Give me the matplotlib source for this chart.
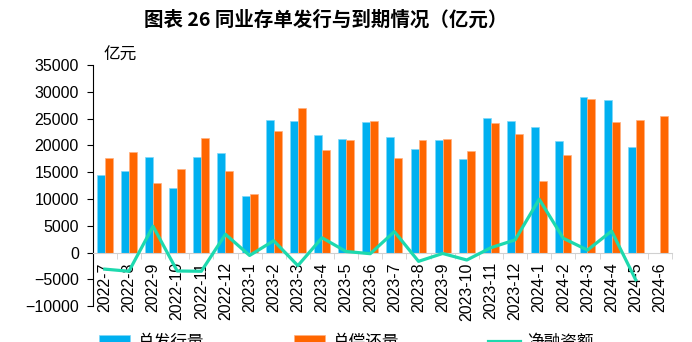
import numpy as np
import matplotlib
matplotlib.use("Agg")
import matplotlib.pyplot as plt
from matplotlib.ticker import FixedLocator

# ── Données ──
mois = ["2022-7", "2022-8", "2022-9", "2022-10", "2022-11", "2022-12",
        "2023-1", "2023-2", "2023-3", "2023-4", "2023-5", "2023-6",
        "2023-7", "2023-8", "2023-9", "2023-10", "2023-11", "2023-12",
        "2024-1", "2024-2", "2024-3", "2024-4", "2024-5", "2024-6"]
emission = [14500, 15300, 17900, 12100, 17800, 18600,
            10500, 24800, 24500, 22000, 21200, 24400,
            21500, 19400, 21000, 17500, 25100, 24600,
            23400, 20900, 29100, 28400, 19600, np.nan]
remboursement = [17600, 18800, 12900, 15600, 21300, 15200,
                 11000, 22600, 26900, 19200, 21000, 24600,
                 17600, 21000, 21100, 18900, 24200, 22200,
                 13400, 18200, 28700, 24400, 24800, 25400]
net = [-3100, -3500, 4900, -3450, -3500, 3400,
       -550, 2200, -2450, 2750, 190, -220,
       3900, -1650, -180, -1400, 900, 2350,
       9950, 2650, 450, 4000, -5100, np.nan]

BLEU = "#00B0F0"
ORANGE = "#FF6600"
TEAL = "#1DD9AE"

NUM_FONT = ["Liberation Sans", "Noto Sans CJK SC"]
CJK_FONT = ["Noto Sans CJK SC", "DejaVu Sans"]

fig = plt.figure(figsize=(6.92, 3.42), dpi=100)
ax = fig.add_axes([0.134, 0.105, 0.837, 0.705])

x = np.arange(len(mois))
w = 0.33
b1 = ax.bar(x - w / 2, emission, width=w, color=BLEU, edgecolor="#7FD8F8",
            linewidth=0.5, label="总发行量", zorder=2)
b2 = ax.bar(x + w / 2, remboursement, width=w, color=ORANGE, edgecolor="#FFB080",
            linewidth=0.5, label="总偿还量", zorder=2)
l1, = ax.plot(x, net, color=TEAL, linewidth=2.3, label="净融资额", zorder=3)

ax.set_xlim(-0.5, len(mois) - 0.5)
ax.set_ylim(-10000, 35000)
ax.set_yticks(np.arange(-10000, 35001, 5000))

for s in ["top", "right"]:
    ax.spines[s].set_visible(False)
ax.spines["bottom"].set_position(("data", 0))
ax.spines["bottom"].set_color("#D0D0D0")
ax.spines["left"].set_color("black")
ax.spines["left"].set_linewidth(0.8)

ax.set_xticks(x)
ax.set_xticklabels(mois, rotation=90, va="top", ha="center",
                   family=NUM_FONT, fontsize=11.5)
ax.tick_params(axis="x", which="major", length=0, pad=7)
ax.xaxis.set_minor_locator(FixedLocator(np.arange(-0.5, len(mois), 1)))
ax.tick_params(axis="x", which="minor", length=4, color="#D0D0D0", direction="out")
ax.tick_params(axis="y", length=4, direction="out", pad=6)
for lab in ax.get_yticklabels():
    lab.set_family(NUM_FONT)
    lab.set_fontsize(11.5)

fig.text(0.150, 0.839, "亿元", family=CJK_FONT, fontsize=12, va="center")
fig.text(0.471, 0.942, "图表 26 同业存单发行与到期情况（亿元）", family=CJK_FONT,
         fontsize=14, fontweight="bold", ha="center", va="center")

fig.legend(handles=[b1, b2, l1], loc="center", bbox_to_anchor=(0.5, 0.0),
           ncol=3, frameon=False, prop={"family": CJK_FONT, "size": 12},
           handlelength=1.9, handletextpad=0.4, columnspacing=5.4)

fig.savefig("out.png", dpi=100)
